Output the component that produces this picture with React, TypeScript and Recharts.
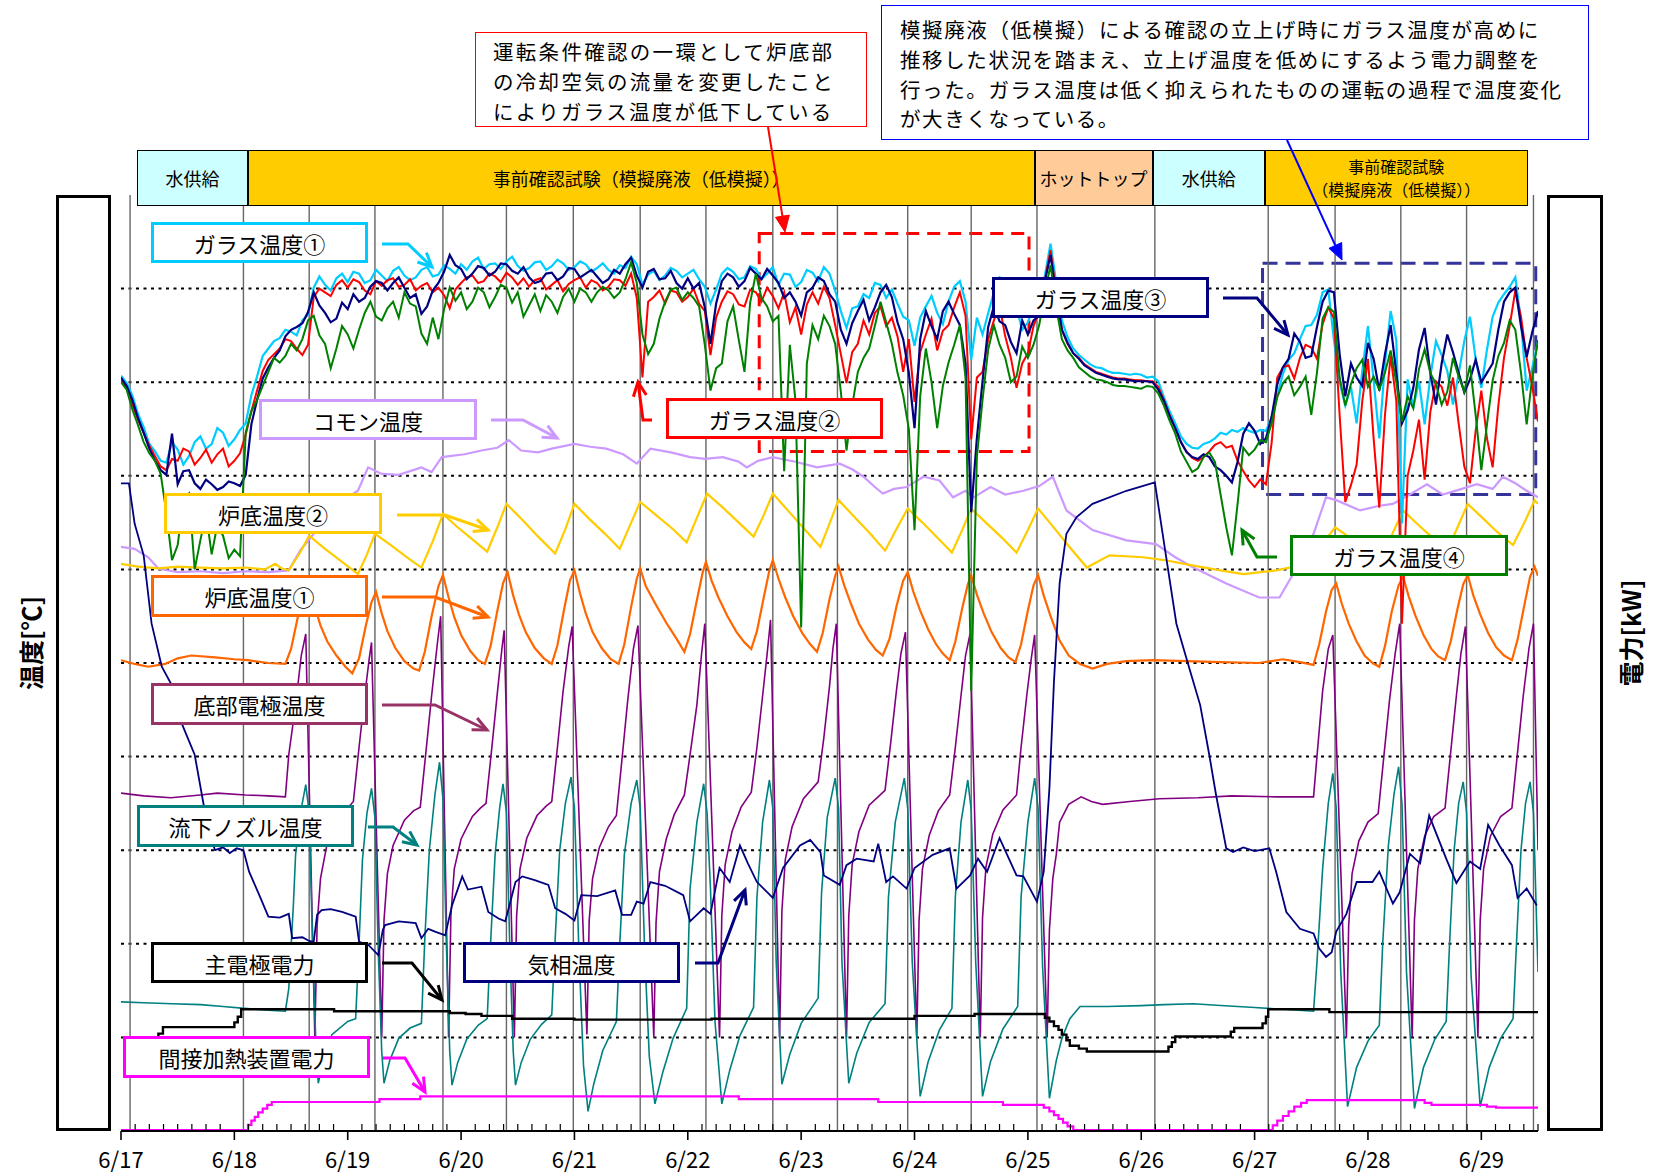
import React from 'react';
import { LineChart, Line, XAxis, YAxis, ReferenceLine, ReferenceArea } from 'recharts';

// ---- layout ----
const W = 1653;
const H = 1176;
const PLOT_L = 121;
const PLOT_R = 1538;
const PLOT_T = 195;
const X_MIN = 17;
const X_MAX = 29.5;
const FONT = "'Noto Sans CJK JP', 'Noto Sans', sans-serif";

// ---- glass temperatures ----
// main samples every 0.1 day from 6/17 00:00, plus in-between samples at +0.05 day
const glassStart = 17;
const glassStep = 0.1;

const glass1 = [
  80.7, 78.6, 75.2, 72.6, 71.4, 72.8, 72.1, 74.2, 73.4, 74.6,
  73.9, 75.6, 80.6, 83.6, 84.7, 85.4, 86.6, 90.1, 90.4, 91.1,
  90.7, 91.6, 90.9, 91.4, 91.9, 91.4, 91.2, 92.3, 91.5, 92.1,
  92.6, 92.9, 92.1, 92.7, 92.9, 92.4, 92.2, 92.9, 92.4, 92.7,
  92.3, 92.6, 92.2, 92.0, 92.5, 93.4, 90.4, 91.9, 91.4, 91.9,
  91.6, 91.0, 88.4, 91.6, 91.8, 91.2, 92.1, 91.6, 90.4, 91.5,
  90.7, 91.7, 92.3, 89.8, 85.8, 88.1, 89.0, 90.4, 89.9, 87.0,
  83.9, 88.1, 87.4, 88.6, 90.8, 82.4, 85.1, 89.6, 90.9, 88.0,
  86.4, 89.1, 94.8, 86.6, 83.6, 82.4, 81.6, 81.2, 81.0, 80.8,
  80.8, 80.6, 78.4, 75.6, 73.4, 72.9, 73.6, 74.6, 74.9, 75.1,
  74.6, 74.8, 78.6, 82.4, 84.6, 86.1, 89.6, 84.5, 77.5, 75.6,
  86.0, 74.0, 87.6, 64.9, 77.3, 75.5, 84.4, 81.2, 80.9, 87.0,
  79.4, 87.0, 89.4, 91.2, 79.1, 84.4,
];
const glass1Mid = [
  79.9, 76.6, 73.4, 71.6, 73.6, 71.2, 73.6, 72.9, 75.1, 73.2,
  74.9, 78.6, 82.8, 84.4, 85.6, 85.0, 87.2, 91.3, 89.8, 91.6,
  91.8, 90.6, 92.0, 90.8, 92.3, 90.9, 92.0, 91.3, 92.5, 91.6,
  92.0, 93.3, 92.6, 92.1, 93.4, 91.9, 92.8, 92.0, 93.1, 92.0,
  92.9, 91.8, 92.7, 91.6, 92.2, 92.6, 91.5, 90.9, 92.2, 91.2,
  92.0, 90.2, 89.9, 92.2, 91.0, 92.4, 91.0, 92.3, 91.6, 90.2,
  92.0, 90.8, 91.6, 87.6, 87.9, 89.4, 90.6, 89.0, 88.4, 86.6,
  86.9, 89.2, 86.2, 90.2, 88.6, 86.9, 87.4, 91.2, 89.2, 85.6,
  88.2, 91.4, 90.6, 84.8, 82.9, 81.9, 81.5, 81.0, 80.9, 80.9,
  80.5, 80.1, 76.9, 74.2, 73.0, 73.4, 74.0, 74.4, 74.7, 74.8,
  74.9, 76.2, 80.9, 83.1, 86.0, 87.2, 89.9, 80.0, 79.5, 81.2,
  80.2, 82.0, 84.5, 80.3, 80.1, 80.6, 82.9, 77.6, 84.4, 82.5,
  83.5, 88.5, 90.2, 86.5, 81.6,
];

const glass2 = [
  80.2, 77.6, 74.6, 72.1, 70.6, 71.6, 72.6, 71.9, 71.4, 72.9,
  71.6, 74.4, 79.1, 82.4, 83.6, 84.4, 82.9, 89.1, 89.6, 90.4,
  90.1, 90.7, 89.4, 90.3, 91.1, 90.4, 89.8, 90.6, 90.1, 87.9,
  90.6, 91.4, 90.8, 91.3, 91.7, 90.4, 90.2, 91.1, 90.4, 89.7,
  90.9, 90.1, 90.6, 90.2, 90.9, 91.6, 80.5, 89.1, 88.4, 89.6,
  89.1, 88.4, 82.9, 88.6, 89.4, 88.1, 89.6, 90.1, 87.9, 86.4,
  85.1, 89.6, 90.2, 86.1, 79.9, 84.1, 85.1, 88.1, 86.9, 81.1,
  77.9, 85.1, 83.4, 86.1, 89.6, 73.9, 81.1, 86.6, 84.9, 79.4,
  83.1, 87.6, 94.1, 85.6, 83.1, 81.9, 81.1, 80.7, 80.4, 80.3,
  80.2, 80.1, 78.1, 75.1, 72.6, 71.6, 72.6, 73.6, 73.2, 70.5,
  68.8, 69.1, 80.5, 81.8, 82.6, 83.7, 86.2, 86.8, 67.2, 71.2,
  82.5, 66.6, 82.8, 54.2, 72.7, 69.6, 80.1, 77.5, 75.6, 69.2,
  79.1, 70.9, 82.6, 89.8, 82.6, 75.8,
];
const glass2Mid = [
  79.4, 76.0, 73.2, 71.0, 71.8, 72.9, 71.2, 72.8, 72.3, 71.0,
  72.4, 76.9, 81.2, 83.0, 84.6, 83.6, 84.0, 90.0, 89.2, 90.9,
  91.0, 89.8, 90.8, 90.9, 90.2, 91.0, 90.3, 89.6, 89.3, 89.9,
  91.2, 90.6, 91.6, 90.7, 91.2, 91.1, 90.9, 89.9, 90.9, 90.5,
  91.2, 90.9, 89.8, 91.0, 90.3, 89.0, 88.6, 89.8, 89.8, 88.6,
  90.0, 87.6, 86.9, 89.7, 88.3, 89.9, 88.6, 89.2, 89.6, 88.0,
  88.3, 88.4, 89.0, 83.0, 83.2, 86.6, 87.4, 86.0, 84.9, 84.6,
  83.2, 86.8, 85.5, 88.0, 87.1, 80.5, 84.6, 88.2, 82.6, 82.0,
  86.0, 90.9, 89.6, 84.1, 82.6, 81.5, 80.9, 80.5, 80.4, 80.2,
  80.1, 79.5, 76.5, 73.6, 71.9, 72.0, 73.3, 73.0, 71.6, 69.5,
  69.6, 73.5, 81.6, 80.4, 84.0, 82.5, 88.0, 76.5, 69.0, 78.0,
  74.0, 76.5, 78.0, 70.0, 76.0, 76.8, 79.5, 80.5, 71.0, 74.8,
  74.0, 77.5, 86.0, 87.0, 79.5,
];

const glass3 = [
  80.5, 78.1, 74.6, 71.6, 70.1, 69.1, 70.6, 68.6, 69.1, 68.8,
  69.2, 70.1, 78.1, 81.6, 83.4, 85.6, 86.3, 89.6, 87.4, 86.8,
  87.8, 88.6, 90.2, 90.6, 90.6, 90.1, 89.4, 88.1, 90.6, 93.6,
  92.1, 91.6, 92.2, 91.8, 92.6, 91.6, 91.2, 90.8, 91.7, 91.3,
  92.1, 91.6, 91.3, 91.0, 91.6, 93.3, 90.1, 92.1, 91.1, 90.6,
  91.1, 90.6, 84.1, 90.8, 91.2, 90.8, 91.6, 92.1, 90.6, 89.6,
  87.1, 90.1, 90.8, 88.6, 84.1, 87.6, 86.6, 89.6, 89.1, 84.6,
  75.1, 87.6, 84.6, 88.6, 86.1, 66.1, 80.1, 88.1, 86.1, 83.1,
  85.1, 87.1, 93.6, 85.6, 83.1, 81.8, 81.0, 80.6, 80.3, 80.2,
  80.1, 80.0, 78.0, 75.1, 72.5, 71.8, 72.0, 70.6, 69.3, 74.5,
  74.8, 74.0, 79.8, 82.5, 84.3, 82.8, 88.6, 89.6, 78.5, 80.5,
  84.2, 79.1, 86.1, 75.6, 79.4, 85.8, 77.6, 85.1, 81.0, 80.3,
  80.0, 82.0, 88.6, 90.1, 82.7, 87.6,
];
const glass3Mid = [
  79.6, 76.2, 72.9, 70.6, 74.5, 70.5, 69.2, 69.6, 68.5, 69.4,
  68.9, 75.5, 80.4, 82.6, 84.9, 85.9, 87.5, 88.2, 86.4, 88.5,
  89.4, 89.0, 90.8, 89.8, 91.2, 89.0, 87.3, 89.8, 91.8, 92.5,
  91.0, 92.4, 91.4, 92.7, 91.9, 92.3, 90.6, 91.6, 90.9, 92.2,
  91.2, 92.0, 90.6, 92.0, 92.6, 91.4, 91.8, 91.0, 91.9, 90.0,
  90.0, 88.0, 88.4, 91.6, 90.2, 92.2, 91.0, 91.4, 89.0, 88.6,
  89.6, 91.2, 89.4, 85.6, 86.3, 88.8, 88.0, 90.4, 86.4, 81.0,
  84.6, 86.0, 87.6, 87.3, 82.0, 74.0, 85.9, 86.5, 84.3, 86.6,
  86.6, 90.8, 89.2, 84.2, 82.5, 81.4, 80.8, 80.4, 80.3, 80.1,
  80.1, 79.2, 76.4, 73.6, 72.0, 72.3, 71.0, 70.0, 71.5, 75.6,
  73.4, 76.3, 81.6, 85.2, 82.6, 85.9, 89.8, 83.0, 82.0, 79.6,
  82.5, 83.0, 81.0, 77.0, 83.5, 81.0, 82.0, 83.2, 78.9, 82.4,
  81.0, 85.6, 89.6, 86.0, 85.4,
];

const glass4 = [
  80.0, 77.1, 73.6, 71.6, 66.1, 62.6, 68.1, 63.1, 61.6, 63.6,
  62.1, 74.6, 78.1, 81.1, 82.1, 84.1, 84.6, 87.1, 84.1, 83.6,
  85.1, 85.6, 88.6, 86.6, 88.6, 89.6, 88.1, 84.1, 84.6, 90.1,
  89.6, 88.6, 89.6, 89.1, 90.1, 89.6, 88.2, 87.6, 88.6, 89.1,
  88.6, 89.6, 89.6, 89.8, 89.6, 92.8, 85.1, 84.1, 88.6, 90.1,
  89.6, 88.1, 79.1, 82.0, 88.1, 81.1, 91.6, 88.1, 87.1, 84.0,
  53.8, 86.1, 87.1, 84.1, 72.7, 81.1, 83.6, 88.6, 84.1, 78.6,
  64.2, 83.6, 75.1, 82.1, 86.1, 47.0, 78.1, 86.1, 82.6, 80.6,
  82.6, 86.1, 92.5, 84.6, 82.6, 81.1, 80.3, 80.0, 79.6, 79.5,
  79.3, 79.5, 77.5, 74.5, 71.5, 70.8, 72.5, 68.0, 61.5, 73.0,
  72.8, 73.6, 78.4, 80.6, 79.5, 76.5, 86.8, 87.5, 77.5, 81.5,
  79.5, 79.2, 83.4, 75.8, 77.2, 83.5, 79.8, 79.0, 80.6, 81.8,
  70.6, 80.2, 84.2, 85.6, 75.5, 84.5,
];
const glass4Mid = [
  79.2, 75.4, 72.4, 70.2, 61.0, 67.4, 60.0, 66.0, 64.8, 61.2,
  61.4, 76.9, 79.6, 82.6, 82.8, 83.4, 86.6, 85.0, 81.5, 86.0,
  83.6, 87.4, 87.0, 87.9, 86.9, 88.4, 85.2, 86.9, 87.8, 88.7,
  87.8, 90.1, 88.0, 90.4, 88.5, 87.0, 89.4, 89.3, 87.4, 90.0,
  90.0, 88.6, 90.2, 89.0, 91.0, 90.6, 83.0, 86.8, 89.9, 88.8,
  89.0, 84.0, 81.5, 86.5, 84.5, 88.5, 89.0, 86.5, 70.5, 78.0,
  82.0, 84.6, 86.0, 79.0, 77.5, 82.6, 86.0, 86.4, 81.0, 75.0,
  78.5, 80.0, 79.6, 84.0, 80.5, 72.0, 83.5, 84.0, 80.0, 83.8,
  84.0, 89.6, 88.0, 83.4, 81.6, 80.6, 80.2, 79.7, 79.6, 79.4,
  79.6, 78.8, 75.9, 72.6, 70.4, 72.0, 71.5, 64.5, 67.0, 72.2,
  73.8, 75.6, 79.9, 78.6, 80.6, 81.0, 88.0, 80.5, 79.8, 82.4,
  80.6, 81.0, 80.0, 78.5, 81.4, 81.0, 77.6, 82.6, 79.0, 76.5,
  75.5, 82.8, 86.6, 81.0, 80.6,
];

// ---- other temperatures: [day, value] ----
const commonTemp: [number, number][] = [
  [17.0, 62.4], [17.12, 62.2], [17.24, 61.3], [17.33, 60.1], [17.5, 59.7], [17.7, 59.8], [17.9, 59.6],
  [18.1, 59.8], [18.3, 59.7], [18.48, 59.9], [18.58, 62.0], [18.7, 63.8], [18.85, 65.5], [19.0, 67.7],
  [19.09, 68.4], [19.18, 70.9], [19.3, 70.2], [19.45, 70.1], [19.65, 70.9], [19.74, 70.4], [19.83, 72.0],
  [20.03, 72.3], [20.18, 72.7], [20.32, 73.0], [20.42, 73.8], [20.53, 72.7], [20.68, 72.5], [20.8, 72.9],
  [21.0, 73.4], [21.14, 73.1], [21.28, 72.9], [21.43, 72.3], [21.55, 71.3], [21.67, 72.9], [21.85, 72.5],
  [22.02, 72.0], [22.15, 71.8], [22.31, 72.0], [22.45, 71.5], [22.52, 70.9], [22.62, 71.6], [22.75, 72.0],
  [22.95, 71.5], [23.14, 70.9], [23.34, 71.3], [23.45, 70.7], [23.55, 69.9], [23.65, 68.8], [23.72, 68.1],
  [23.82, 68.6], [23.93, 68.8], [24.08, 69.9], [24.22, 69.5], [24.34, 67.7], [24.45, 68.4], [24.52, 67.7],
  [24.67, 68.8], [24.8, 68.0], [24.96, 68.4], [25.1, 68.9], [25.22, 69.9], [25.34, 66.3], [25.57, 64.2],
  [25.87, 63.1], [26.13, 62.7], [26.3, 61.3], [26.46, 60.2], [26.75, 58.5], [27.04, 57.0], [27.22, 57.0],
  [27.34, 59.5], [27.52, 63.8], [27.63, 67.7], [27.72, 67.4], [27.93, 66.3], [28.1, 66.8], [28.22, 67.0],
  [28.37, 68.0], [28.52, 69.1], [28.66, 68.0], [28.8, 68.5], [28.96, 69.1], [29.1, 68.6], [29.19, 69.9],
  [29.3, 69.2], [29.4, 68.4], [29.5, 67.7],
];

const bottomTemp2: [number, number][] = [
  [17.0, 60.6], [17.15, 60.3], [17.33, 60.1], [17.5, 60.3], [17.7, 60.2], [17.9, 60.1], [18.1, 60.2],
  [18.27, 60.0], [18.36, 60.6], [18.42, 60.1], [18.48, 59.9], [18.58, 61.8], [18.66, 63.6],
  [18.8, 62.2], [18.95, 60.8], [19.09, 59.5], [19.17, 61.6], [19.24, 63.8],
  [19.38, 62.6], [19.52, 61.3], [19.65, 60.2], [19.75, 63.0], [19.84, 65.9],
  [19.97, 64.5], [20.1, 63.2], [20.23, 61.9], [20.32, 64.5], [20.4, 67.0],
  [20.54, 65.3], [20.68, 63.5], [20.83, 61.7], [20.92, 64.3], [21.0, 67.0],
  [21.13, 65.4], [21.27, 63.8], [21.4, 62.2], [21.49, 64.7], [21.58, 67.2],
  [21.72, 65.8], [21.86, 64.4], [21.99, 62.9], [22.08, 65.5], [22.17, 68.1],
  [22.31, 66.6], [22.45, 65.0], [22.58, 63.5], [22.67, 65.8], [22.75, 68.1],
  [22.89, 66.2], [23.03, 64.3], [23.17, 62.4], [23.25, 64.9], [23.33, 67.4],
  [23.47, 65.6], [23.61, 63.8], [23.74, 62.0], [23.84, 64.3], [23.94, 66.5],
  [24.07, 65.0], [24.2, 63.4], [24.33, 61.8], [24.42, 64.2], [24.5, 66.5],
  [24.63, 65.0], [24.77, 63.4], [24.9, 61.8], [25.0, 64.2], [25.09, 66.5],
  [25.22, 64.6], [25.36, 62.5], [25.52, 60.2], [25.72, 61.5], [26.02, 61.3], [26.2, 61.0],
  [26.46, 60.4], [26.7, 59.9], [26.9, 59.5], [27.19, 59.9], [27.35, 60.3], [27.54, 61.8], [27.71, 64.5],
  [27.84, 63.4], [27.97, 62.0], [28.1, 60.6], [28.2, 63.4], [28.31, 66.3],
  [28.44, 64.8], [28.57, 63.4], [28.7, 62.0], [28.79, 64.5], [28.88, 67.0],
  [29.01, 65.5], [29.14, 64.0], [29.28, 62.6], [29.38, 65.0], [29.47, 67.4], [29.5, 67.0],
];

const bottomTemp1: [number, number][] = [
  [17.0, 50.3], [17.12, 49.9], [17.24, 49.6], [17.39, 49.9], [17.5, 50.5], [17.62, 50.8], [17.83, 50.6],
  [18.0, 50.4], [18.12, 50.3], [18.3, 50.0], [18.45, 49.9],
  [18.5, 51.5], [18.56, 54.9], [18.62, 57.2], [18.66, 58.0],
  [18.71, 56.0], [18.76, 54.0], [18.82, 52.3], [18.9, 50.8], [18.98, 49.6], [19.04, 48.9],
  [19.1, 50.5], [19.16, 54.0], [19.21, 56.5], [19.25, 57.6],
  [19.3, 55.3], [19.35, 53.4], [19.42, 51.6], [19.5, 50.2], [19.58, 49.4], [19.63, 49.2],
  [19.68, 51.2], [19.74, 55.0], [19.8, 58.2], [19.84, 59.4],
  [19.89, 57.0], [19.94, 54.9], [20.0, 53.0], [20.08, 51.3], [20.15, 50.3], [20.21, 49.9],
  [20.26, 51.8], [20.32, 55.6], [20.37, 58.5], [20.41, 59.7],
  [20.46, 57.2], [20.51, 55.2], [20.57, 53.3], [20.65, 51.6], [20.73, 50.5], [20.8, 49.9],
  [20.85, 51.9], [20.91, 55.8], [20.96, 58.8], [21.0, 59.9],
  [21.05, 57.4], [21.1, 55.3], [21.16, 53.3], [21.24, 51.6], [21.32, 50.4], [21.39, 49.9],
  [21.44, 52.0], [21.5, 56.0], [21.55, 59.0], [21.58, 60.1],
  [21.63, 58.2], [21.72, 56.2], [21.81, 54.3], [21.9, 52.6], [21.97, 51.2],
  [22.02, 53.1], [22.08, 56.7], [22.13, 59.6], [22.16, 60.8],
  [22.21, 58.8], [22.27, 57.0], [22.35, 55.0], [22.43, 53.3], [22.5, 52.2], [22.56, 51.5],
  [22.61, 53.4], [22.67, 57.0], [22.72, 59.9], [22.75, 61.0],
  [22.8, 59.0], [22.86, 57.0], [22.93, 55.0], [23.01, 53.2], [23.08, 52.0], [23.14, 51.2],
  [23.19, 53.2], [23.25, 56.8], [23.3, 59.3], [23.33, 60.3],
  [23.38, 58.3], [23.44, 56.3], [23.51, 54.2], [23.59, 52.5], [23.66, 51.4], [23.72, 50.8],
  [23.78, 52.6], [23.84, 56.0], [23.9, 58.8], [23.94, 59.7],
  [23.99, 57.6], [24.05, 55.6], [24.12, 53.6], [24.19, 52.0], [24.25, 51.0], [24.31, 50.3],
  [24.36, 52.3], [24.42, 55.8], [24.47, 58.4], [24.5, 59.4],
  [24.55, 57.3], [24.61, 55.3], [24.68, 53.3], [24.76, 51.6], [24.83, 50.6], [24.89, 50.1],
  [24.94, 52.0], [25.0, 55.6], [25.05, 58.3], [25.09, 59.4],
  [25.14, 57.2], [25.2, 55.0], [25.28, 52.4], [25.36, 50.8], [25.46, 49.9], [25.57, 49.4],
  [25.7, 49.9], [25.87, 50.2], [26.1, 50.3], [26.4, 50.2], [26.7, 50.1], [27.04, 50.0], [27.25, 50.4],
  [27.4, 50.1], [27.52, 49.8],
  [27.57, 52.0], [27.63, 55.5], [27.68, 57.8], [27.72, 58.5],
  [27.77, 56.3], [27.83, 54.2], [27.9, 52.3], [27.97, 50.8], [28.04, 50.0], [28.1, 49.6],
  [28.15, 51.8], [28.21, 55.5], [28.27, 58.3], [28.31, 59.2],
  [28.36, 57.1], [28.42, 55.0], [28.49, 53.0], [28.56, 51.5], [28.62, 50.7], [28.68, 50.3],
  [28.73, 52.3], [28.79, 55.8], [28.84, 58.4], [28.88, 59.4],
  [28.93, 57.2], [28.99, 55.2], [29.06, 53.2], [29.13, 51.7], [29.2, 50.8], [29.27, 50.3],
  [29.32, 52.5], [29.38, 56.2], [29.43, 59.2], [29.47, 60.3], [29.5, 59.3],
];

const electrodeTemp: [number, number][] = [
  [17.0, 36.1], [17.2, 35.8], [17.44, 35.6], [17.7, 35.9], [17.85, 36.1], [18.1, 35.9], [18.3, 35.8], [18.45, 35.7],
  [18.48, 40.2], [18.54, 45.5], [18.59, 50.8], [18.63, 53.1],
  [18.71, 10.0], [18.73, 22.0], [18.76, 27.0], [18.82, 30.8], [18.9, 33.0], [19.0, 34.5], [19.05, 35.2],
  [19.1, 41.0], [19.15, 46.5], [19.19, 50.5], [19.21, 52.2],
  [19.3, 10.0], [19.32, 22.5], [19.35, 27.5], [19.4, 30.5], [19.5, 33.2], [19.58, 34.2], [19.64, 34.6],
  [19.69, 40.5], [19.74, 46.5], [19.79, 52.0], [19.82, 55.0],
  [19.89, 10.0], [19.91, 23.0], [19.94, 28.0], [20.0, 31.2], [20.1, 33.6], [20.17, 34.5], [20.22, 35.0],
  [20.27, 40.8], [20.32, 46.8], [20.36, 51.5], [20.38, 53.5],
  [20.47, 10.0], [20.49, 23.0], [20.52, 28.0], [20.58, 31.3], [20.67, 33.7], [20.75, 34.7], [20.8, 35.2],
  [20.85, 41.0], [20.9, 47.0], [20.95, 51.8], [20.98, 53.9],
  [21.11, 10.3], [21.13, 22.5], [21.16, 27.0], [21.22, 30.3], [21.3, 32.5], [21.37, 33.7],
  [21.42, 39.8], [21.47, 46.0], [21.52, 51.5], [21.56, 54.0],
  [21.7, 10.0], [21.72, 22.3], [21.75, 27.7], [21.81, 31.2], [21.88, 33.8], [21.97, 35.9],
  [22.02, 40.2], [22.08, 45.5], [22.12, 50.8], [22.15, 54.2],
  [22.28, 10.0], [22.3, 23.0], [22.33, 28.5], [22.39, 32.0], [22.47, 34.6], [22.56, 36.2],
  [22.61, 41.0], [22.66, 46.5], [22.7, 51.0], [22.73, 54.6],
  [22.81, 10.0], [22.83, 23.5], [22.86, 29.0], [22.92, 32.5], [23.02, 35.5], [23.15, 37.3],
  [23.2, 42.0], [23.25, 47.5], [23.28, 51.5], [23.31, 54.2],
  [23.4, 10.0], [23.42, 23.0], [23.45, 28.5], [23.51, 32.0], [23.6, 34.8], [23.74, 36.4],
  [23.79, 41.5], [23.84, 47.0], [23.88, 51.0], [23.92, 53.3],
  [24.02, 10.0], [24.04, 22.5], [24.07, 28.0], [24.13, 31.6], [24.21, 34.2], [24.31, 35.9],
  [24.36, 41.0], [24.41, 46.5], [24.45, 50.8], [24.49, 53.1],
  [24.58, 10.0], [24.6, 22.8], [24.63, 28.2], [24.69, 31.7], [24.78, 34.3], [24.9, 35.9],
  [24.94, 41.0], [24.99, 46.5], [25.03, 50.5], [25.06, 53.0],
  [25.17, 10.0], [25.19, 21.5], [25.22, 27.0], [25.25, 29.5], [25.28, 33.0], [25.36, 34.9], [25.47, 35.7],
  [25.56, 35.2], [25.66, 34.9], [25.9, 35.2], [26.16, 35.5], [26.5, 35.6], [26.8, 35.8], [27.2, 35.7], [27.52, 35.7],
  [27.55, 40.0], [27.6, 47.0], [27.65, 51.5], [27.69, 53.0],
  [27.81, 10.0], [27.83, 22.0], [27.86, 27.5], [27.92, 31.0], [28.0, 33.0], [28.09, 33.9],
  [28.14, 40.0], [28.19, 46.0], [28.24, 51.0], [28.28, 54.2],
  [28.39, 10.0], [28.41, 22.5], [28.44, 28.0], [28.5, 31.5], [28.58, 33.6], [28.68, 34.5],
  [28.73, 40.5], [28.78, 46.5], [28.82, 51.0], [28.86, 53.9],
  [28.97, 10.0], [28.99, 22.5], [29.02, 28.0], [29.08, 31.5], [29.17, 33.6], [29.27, 34.5],
  [29.32, 40.5], [29.37, 46.5], [29.42, 51.5], [29.46, 54.2], [29.5, 30.0],
];

const nozzleTemp: [number, number][] = [
  [17.0, 13.8], [17.2, 13.7], [17.45, 13.6], [17.7, 13.5], [17.9, 13.3], [18.09, 13.1], [18.3, 12.9], [18.45, 12.8],
  [18.48, 15.2], [18.52, 24.0], [18.54, 29.5], [18.58, 33.8], [18.63, 37.0], [18.66, 34.0],
  [18.69, 20.0], [18.72, 9.0], [18.74, 5.1], [18.78, 7.2], [18.86, 10.3], [19.0, 11.7], [19.07, 12.0],
  [19.1, 20.0], [19.13, 29.0], [19.17, 34.0], [19.21, 36.6], [19.24, 33.5],
  [19.27, 19.0], [19.3, 8.5], [19.32, 5.1], [19.37, 7.5], [19.45, 9.9], [19.55, 11.0], [19.65, 11.5],
  [19.68, 20.5], [19.72, 30.0], [19.77, 36.0], [19.81, 39.4], [19.84, 35.5],
  [19.87, 20.0], [19.9, 8.5], [19.92, 4.9], [19.97, 7.3], [20.05, 9.8], [20.15, 11.3], [20.23, 12.0],
  [20.26, 20.0], [20.3, 29.5], [20.34, 34.5], [20.37, 37.1], [20.4, 34.0],
  [20.43, 19.5], [20.46, 8.5], [20.48, 4.9], [20.53, 7.3], [20.61, 9.8], [20.71, 11.4], [20.8, 12.4],
  [20.83, 20.5], [20.87, 30.0], [20.92, 35.0], [20.97, 37.8], [21.0, 34.5],
  [21.04, 19.0], [21.08, 7.0], [21.12, 2.1], [21.17, 5.0], [21.25, 8.6], [21.37, 11.7],
  [21.4, 20.0], [21.44, 29.5], [21.5, 35.0], [21.55, 37.5], [21.58, 34.5],
  [21.62, 19.0], [21.66, 8.0], [21.71, 2.9], [21.78, 6.3], [21.87, 9.9], [21.99, 13.1],
  [22.02, 25.9], [22.08, 33.0], [22.14, 37.1], [22.17, 34.0],
  [22.2, 25.9], [22.24, 11.7], [22.3, 2.9], [22.37, 6.5], [22.46, 10.2], [22.58, 13.2],
  [22.61, 25.0], [22.66, 33.0], [22.72, 37.5], [22.75, 34.5],
  [22.78, 18.0], [22.83, 5.0], [22.9, 8.2], [23.0, 11.5], [23.15, 14.2],
  [23.18, 25.5], [23.23, 33.5], [23.3, 37.7], [23.33, 34.5],
  [23.36, 18.0], [23.42, 5.1], [23.49, 8.3], [23.6, 11.6], [23.74, 13.6],
  [23.77, 25.0], [23.83, 33.0], [23.91, 37.7], [23.94, 34.5],
  [23.98, 18.0], [24.05, 3.7], [24.12, 7.4], [24.22, 10.8], [24.33, 13.1],
  [24.36, 25.0], [24.41, 33.0], [24.47, 37.5], [24.5, 34.3],
  [24.54, 18.0], [24.6, 3.7], [24.67, 7.4], [24.78, 10.9], [24.91, 13.3],
  [24.94, 25.0], [25.0, 33.0], [25.06, 37.7], [25.09, 34.5],
  [25.13, 17.5], [25.19, 3.5], [25.25, 7.5], [25.3, 9.9], [25.37, 12.0], [25.46, 13.3], [25.7, 13.3],
  [26.0, 13.4], [26.2, 13.5], [26.46, 13.6], [26.7, 13.4], [27.0, 13.2], [27.25, 13.0], [27.52, 12.8],
  [27.55, 18.0], [27.6, 28.0], [27.65, 35.0], [27.69, 38.2], [27.72, 34.5],
  [27.76, 17.0], [27.82, 2.6], [27.9, 6.8], [28.0, 9.6], [28.1, 11.3],
  [28.13, 20.0], [28.18, 30.5], [28.23, 36.0], [28.27, 38.9], [28.3, 35.0],
  [28.34, 17.0], [28.41, 2.4], [28.49, 6.8], [28.59, 9.8], [28.69, 11.7],
  [28.72, 20.0], [28.76, 30.0], [28.8, 35.0], [28.84, 37.3], [28.87, 34.0],
  [28.91, 16.5], [28.99, 2.6], [29.07, 6.8], [29.17, 9.9], [29.28, 12.0],
  [29.31, 20.0], [29.35, 30.0], [29.39, 35.0], [29.43, 37.3], [29.46, 34.0], [29.5, 17.0],
];

const gasTemp: [number, number][] = [
  [17.0, 69.2], [17.07, 69.2], [17.12, 64.9], [17.2, 61.5], [17.27, 54.2], [17.36, 49.6], [17.45, 47.6],
  [17.53, 43.7], [17.65, 40.2], [17.73, 34.8], [17.8, 31.0], [17.83, 30.0], [17.9, 30.3], [17.96, 29.7],
  [18.02, 30.2], [18.08, 30.0], [18.13, 27.7], [18.22, 25.2], [18.3, 22.9], [18.4, 22.8], [18.48, 23.2],
  [18.51, 20.6], [18.6, 20.7], [18.66, 20.3], [18.7, 20.2], [18.73, 23.1], [18.77, 23.6], [18.85, 23.7],
  [18.95, 23.4], [19.07, 22.9], [19.1, 20.2], [19.18, 19.9], [19.27, 18.8], [19.31, 21.5], [19.33, 22.0],
  [19.45, 22.4], [19.6, 22.2], [19.65, 20.6], [19.71, 21.6], [19.77, 21.3], [19.86, 20.9], [19.92, 24.1],
  [20.01, 27.2], [20.06, 25.8], [20.18, 26.1], [20.24, 23.4], [20.33, 22.7], [20.39, 22.4], [20.48, 26.6],
  [20.54, 27.2], [20.65, 26.8], [20.77, 26.3], [20.83, 23.8], [20.92, 23.2], [21.0, 22.5], [21.06, 25.2],
  [21.2, 25.1], [21.36, 25.7], [21.42, 23.1], [21.5, 23.1], [21.55, 24.5], [21.61, 24.3], [21.67, 26.6],
  [21.8, 26.2], [21.96, 25.2], [22.02, 22.4], [22.14, 23.8], [22.2, 23.2], [22.28, 28.1], [22.37, 26.6],
  [22.46, 30.5], [22.53, 28.6], [22.61, 26.6], [22.75, 24.9], [22.84, 28.1], [22.99, 30.5], [23.08, 31.1],
  [23.17, 29.8], [23.2, 27.3], [23.34, 26.3], [23.4, 28.4], [23.49, 29.1], [23.64, 28.8], [23.68, 30.7],
  [23.75, 26.6], [23.81, 27.2], [23.93, 25.9], [24.0, 28.1], [24.16, 29.5], [24.31, 30.2], [24.37, 25.9],
  [24.49, 27.3], [24.56, 29.1], [24.64, 27.7], [24.75, 31.3], [24.9, 27.3], [24.96, 27.2], [25.08, 24.5],
  [25.14, 27.7], [25.19, 36.6], [25.23, 48.0], [25.28, 58.5], [25.34, 63.8], [25.43, 65.6], [25.57, 67.0],
  [25.87, 68.4], [26.12, 69.3], [26.22, 61.3], [26.31, 54.2], [26.43, 49.2], [26.52, 45.5], [26.6, 40.2],
  [26.66, 35.9], [26.75, 30.2], [26.81, 29.8], [26.9, 30.3], [27.0, 29.9], [27.13, 30.2], [27.19, 27.7],
  [27.28, 23.4], [27.4, 21.6], [27.52, 21.1], [27.57, 19.5], [27.63, 18.6], [27.68, 19.1], [27.72, 21.3],
  [27.81, 23.2], [27.9, 26.6], [28.04, 26.6], [28.1, 27.7], [28.22, 24.3], [28.28, 25.5], [28.37, 29.6],
  [28.46, 28.6], [28.54, 33.7], [28.69, 29.1], [28.78, 26.5], [28.9, 28.8], [28.99, 28.0], [29.06, 32.7],
  [29.16, 30.5], [29.27, 28.4], [29.32, 24.9], [29.4, 25.9], [29.49, 24.1],
];

// ---- electric power (right axis), step series ----
const mainPower: [number, number][] = [
  [17.3, 9.5], [17.33, 10.4], [17.37, 11.1], [18.0, 11.6], [18.03, 12.2], [18.06, 13.0], [18.88, 12.8],
  [19.9, 12.6], [20.04, 12.5], [20.18, 12.3], [20.45, 12.0], [21.0, 11.9], [22.21, 12.0], [24.0, 12.3],
  [24.53, 12.5], [25.15, 12.1], [25.19, 11.7], [25.23, 11.2], [25.27, 10.8], [25.3, 10.3], [25.34, 9.7],
  [25.37, 9.1], [25.45, 8.8], [25.52, 8.5], [26.24, 9.0], [26.27, 9.5], [26.3, 10.1], [26.79, 10.6],
  [26.82, 11.0], [27.07, 11.5], [27.1, 12.2], [27.12, 13.0], [27.66, 12.7], [29.5, 12.7],
];

const heaterPower: [number, number][] = [
  [17.0, 0.1], [18.12, 0.65], [18.15, 1.1], [18.18, 1.5], [18.21, 2.0], [18.25, 2.4], [18.29, 2.8],
  [18.33, 3.1], [19.28, 3.4], [19.64, 3.7], [22.45, 3.4], [23.68, 3.1], [24.78, 2.8], [25.14, 2.5],
  [25.19, 2.1], [25.23, 1.7], [25.27, 1.3], [25.31, 0.9], [25.35, 0.5], [25.4, 0.1], [27.16, 0.6],
  [27.2, 1.1], [27.25, 1.6], [27.3, 2.1], [27.35, 2.6], [27.41, 3.0], [27.46, 3.3], [28.5, 3.0],
  [28.56, 2.8], [29.05, 2.6], [29.13, 2.5], [29.5, 2.5],
];

// ---- operation events (vertical lines) and schedule band ----
const eventDays = [
  17.08, 18.08, 18.66, 19.24, 19.84, 20.4, 20.99, 21.58, 22.16, 22.75, 23.32, 23.94, 24.5, 25.08,
  26.12, 27.12, 27.71, 28.29, 28.87, 29.46,
];

const phases = [
  { from: 17.14, to: 18.12, color: '#CCFFFF', lines: ['水供給'] },
  { from: 18.12, to: 25.06, color: '#FFCC00', lines: ['事前確認試験（模擬廃液（低模擬））'] },
  { from: 25.06, to: 26.1, color: '#FFCC99', lines: ['ホットトップ'] },
  { from: 26.1, to: 27.09, color: '#CCFFFF', lines: ['水供給'] },
  { from: 27.09, to: 29.41, color: '#FFCC00', lines: ['事前確認試験', '（模擬廃液（低模擬））'] },
];

const dayLabels = ['6/17', '6/18', '6/19', '6/20', '6/21', '6/22', '6/23', '6/24', '6/25', '6/26', '6/27', '6/28', '6/29'];

const toPts = (arr: [number, number][]) => arr.map(([d, v]) => ({ d, v }));
const glassPts = (main: number[], mid: number[]) => {
  const out: { d: number; v: number }[] = [];
  main.forEach((v, i) => {
    out.push({ d: +(glassStart + i * glassStep).toFixed(2), v });
    if (i < mid.length) out.push({ d: +(glassStart + i * glassStep + glassStep / 2).toFixed(2), v: mid[i] });
  });
  return out;
};

const leftTicks = Array.from({ length: 21 }, (_, i) => i * 5);
const rightTicks = Array.from({ length: 41 }, (_, i) => i * 2.5);
const gridValues = [10, 20, 30, 40, 50, 60, 70, 80, 90];
const xTicks = Array.from({ length: 101 }, (_, i) => X_MIN + i * 0.125);

const dayX = (d: number) => PLOT_L + ((d - X_MIN) / (X_MAX - X_MIN)) * (PLOT_R - PLOT_L);

const DayTick = (props: any) => {
  const { x, y, payload } = props;
  const v = payload.value as number;
  const idx = Math.round(v - X_MIN);
  const major = Math.abs(v - Math.round(v)) < 1e-6;
  return (
    <g>
      {major ? (
        <line x1={x} x2={x} y1={y} y2={y + 9} stroke="#000" strokeWidth={1.6} />
      ) : (
        <line x1={x} x2={x} y1={y - 7} y2={y} stroke="#000" strokeWidth={1.2} />
      )}
      {major && dayLabels[idx] && (
        <text x={x} y={y + 37} textAnchor="middle" fontSize={22} fontFamily={FONT} fill="#000">
          {dayLabels[idx]}
        </text>
      )}
    </g>
  );
};

// series name labels
const callouts = [
  { text: 'ガラス温度①', x: 151, y: 222, w: 217, h: 41, color: '#00CCFF' },
  { text: 'コモン温度', x: 259, y: 399, w: 218, h: 41, color: '#CC99FF' },
  { text: '炉底温度②', x: 164, y: 493, w: 218, h: 41, color: '#FFCC00' },
  { text: '炉底温度①', x: 151, y: 575, w: 217, h: 42, color: '#FF6600' },
  { text: '底部電極温度', x: 151, y: 683, w: 217, h: 42, color: '#993366' },
  { text: '流下ノズル温度', x: 137, y: 805, w: 217, h: 42, color: '#008080' },
  { text: '主電極電力', x: 151, y: 942, w: 217, h: 41, color: '#000000' },
  { text: '間接加熱装置電力', x: 123, y: 1036, w: 247, h: 42, color: '#FF00FF' },
  { text: '気相温度', x: 463, y: 942, w: 217, h: 41, color: '#000080' },
  { text: 'ガラス温度②', x: 666, y: 398, w: 217, h: 41, color: '#FF0000' },
  { text: 'ガラス温度③', x: 992, y: 277, w: 217, h: 41, color: '#000080' },
  { text: 'ガラス温度④', x: 1290, y: 535, w: 218, h: 41, color: '#008000' },
];

const arrows: { pts: number[][]; color: string; filled?: boolean; width?: number }[] = [
  { pts: [[382, 244], [408, 244], [432, 267]], color: '#00CCFF' },
  { pts: [[491, 420], [523, 420], [557, 438]], color: '#CC99FF' },
  { pts: [[397, 515], [445, 515], [488, 530]], color: '#FFCC00' },
  { pts: [[382, 597], [435, 597], [488, 617]], color: '#FF6600' },
  { pts: [[382, 705], [435, 705], [487, 730]], color: '#993366' },
  { pts: [[368, 827], [393, 827], [417, 845]], color: '#008080' },
  { pts: [[382, 963], [412, 963], [442, 1000]], color: '#000000' },
  { pts: [[383, 1058], [405, 1058], [425, 1092]], color: '#FF00FF' },
  { pts: [[695, 963], [718, 963], [745, 890]], color: '#000080' },
  { pts: [[652, 420], [643, 420], [638, 382]], color: '#FF0000' },
  { pts: [[1223, 298], [1257, 298], [1288, 335]], color: '#000080' },
  { pts: [[1277, 557], [1257, 557], [1242, 530]], color: '#008000' },
  { pts: [[768, 127], [785, 232]], color: '#FF0000', filled: true, width: 2 },
  { pts: [[1287, 140], [1342, 260]], color: '#0000FF', filled: true, width: 2 },
];

const Arrow = ({ pts, color, filled, width }: { pts: number[][]; color: string; filled?: boolean; width?: number }) => {
  const n = pts.length;
  const [x1, y1] = pts[n - 2];
  const [x2, y2] = pts[n - 1];
  const len = Math.hypot(x2 - x1, y2 - y1);
  const ux = (x2 - x1) / len;
  const uy = (y2 - y1) / len;
  const L = filled ? 16 : 14;
  const Wd = filled ? 7 : 6.5;
  const ax = x2 - ux * L - uy * Wd;
  const ay = y2 - uy * L + ux * Wd;
  const bx = x2 - ux * L + uy * Wd;
  const by = y2 - uy * L - ux * Wd;
  const lineEnd = filled ? pts.slice(0, n - 1).concat([[x2 - ux * L * 0.8, y2 - uy * L * 0.8]]) : pts;
  return (
    <g>
      <polyline
        points={lineEnd.map((p) => p.join(',')).join(' ')}
        fill="none"
        stroke={color}
        strokeWidth={width ?? 3}
        strokeLinejoin="miter"
      />
      {filled ? (
        <polygon points={`${ax},${ay} ${x2},${y2} ${bx},${by}`} fill={color} stroke={color} />
      ) : (
        <polyline points={`${ax},${ay} ${x2},${y2} ${bx},${by}`} fill="none" stroke={color} strokeWidth={3} />
      )}
    </g>
  );
};

const noteStyle = {
  position: 'absolute' as const,
  boxSizing: 'border-box' as const,
  background: '#fff',
  fontSize: 20.5,
  lineHeight: '29.8px',
  color: '#000',
  whiteSpace: 'nowrap' as const,
};

export default function App() {
  return (
    <div
      style={{
        position: 'absolute',
        left: 0,
        top: 0,
        width: W,
        height: H,
        background: '#fff',
        overflow: 'hidden',
        fontFamily: FONT,
      }}
    >
      <LineChart width={W} height={H} margin={{ top: PLOT_T, right: W - PLOT_R, bottom: 0, left: PLOT_L }}>
        <XAxis
          dataKey="d"
          type="number"
          domain={[X_MIN, X_MAX]}
          ticks={xTicks}
          interval={0}
          allowDataOverflow
          height={45}
          tickSize={0}
          tickMargin={0}
          tickLine={false}
          axisLine={{ stroke: '#000', strokeWidth: 2 }}
          tick={<DayTick />}
        />
        <YAxis
          yAxisId="t"
          type="number"
          domain={[0, 100]}
          ticks={leftTicks}
          allowDataOverflow
          width={0}
          tick={false}
          tickSize={7}
          tickLine={{ stroke: '#000', strokeWidth: 1.5 }}
          axisLine={{ stroke: '#000', strokeWidth: 2 }}
        />
        <YAxis
          yAxisId="p"
          orientation="right"
          mirror
          type="number"
          domain={[0, 100]}
          ticks={rightTicks}
          allowDataOverflow
          width={0}
          tick={false}
          tickSize={7}
          tickLine={{ stroke: '#000', strokeWidth: 1.5 }}
          axisLine={{ stroke: '#000', strokeWidth: 2 }}
        />

        {gridValues.map((v) => (
          <ReferenceLine key={`g${v}`} yAxisId="t" y={v} stroke="#000" strokeWidth={2} strokeDasharray="3 4.5" />
        ))}
        {eventDays.map((d) => (
          <ReferenceLine key={`e${d}`} yAxisId="t" x={d} stroke="#666" strokeWidth={1.4} />
        ))}

        <Line yAxisId="t" data={toPts(commonTemp)} dataKey="v" stroke="#CC99FF" strokeWidth={2.2} dot={false} isAnimationActive={false} />
        <Line yAxisId="t" data={toPts(bottomTemp2)} dataKey="v" stroke="#FFCC00" strokeWidth={2.2} dot={false} isAnimationActive={false} />
        <Line yAxisId="t" data={toPts(bottomTemp1)} dataKey="v" stroke="#FF6600" strokeWidth={2.2} dot={false} isAnimationActive={false} />
        <Line yAxisId="t" data={toPts(electrodeTemp)} dataKey="v" stroke="#800080" strokeWidth={1.6} dot={false} isAnimationActive={false} />
        <Line yAxisId="t" data={toPts(nozzleTemp)} dataKey="v" stroke="#008080" strokeWidth={1.6} dot={false} isAnimationActive={false} />
        <Line yAxisId="t" data={toPts(gasTemp)} dataKey="v" stroke="#000080" strokeWidth={1.8} dot={false} isAnimationActive={false} />

        <Line yAxisId="t" data={glassPts(glass1, glass1Mid)} dataKey="v" stroke="#00CCFF" strokeWidth={2.2} dot={false} isAnimationActive={false} />
        <Line yAxisId="t" data={glassPts(glass2, glass2Mid)} dataKey="v" stroke="#FF0000" strokeWidth={2} dot={false} isAnimationActive={false} />
        <Line yAxisId="t" data={glassPts(glass3, glass3Mid)} dataKey="v" stroke="#000080" strokeWidth={2.2} dot={false} isAnimationActive={false} />
        <Line yAxisId="t" data={glassPts(glass4, glass4Mid)} dataKey="v" stroke="#008000" strokeWidth={2} dot={false} isAnimationActive={false} />

        <Line yAxisId="p" type="stepAfter" data={toPts(mainPower)} dataKey="v" stroke="#000" strokeWidth={2.4} dot={false} isAnimationActive={false} />
        <Line yAxisId="p" type="stepAfter" data={toPts(heaterPower)} dataKey="v" stroke="#FF00FF" strokeWidth={2.2} dot={false} isAnimationActive={false} />

        <ReferenceArea yAxisId="t" x1={22.63} x2={25.01} y1={72.6} y2={95.9} fill="none" fillOpacity={0} stroke="#FF0000" strokeWidth={3} strokeDasharray="13 8" />
        <ReferenceArea yAxisId="t" x1={27.07} x2={29.48} y1={68.0} y2={92.7} fill="none" fillOpacity={0} stroke="#333399" strokeWidth={3} strokeDasharray="15 8" />
      </LineChart>

      {/* framed side panels */}
      <div style={{ position: 'absolute', left: 56, top: 195, width: 55, height: 936, border: '3px solid #000', boxSizing: 'border-box', background: '#fff' }} />
      <div style={{ position: 'absolute', left: 1547, top: 195, width: 56, height: 936, border: '3px solid #000', boxSizing: 'border-box', background: '#fff' }} />

      {/* schedule band */}
      {phases.map((p, i) => (
        <div
          key={`ph${i}`}
          style={{
            position: 'absolute',
            left: dayX(p.from),
            top: 150,
            width: dayX(p.to) - dayX(p.from),
            height: 56,
            background: p.color,
            border: '1.5px solid #000',
            boxSizing: 'border-box',
            display: 'flex',
            flexDirection: 'column',
            alignItems: 'center',
            justifyContent: 'center',
            fontSize: p.lines.length > 1 ? 16 : 18,
            lineHeight: p.lines.length > 1 ? '23.5px' : '26px',
            color: '#000',
            whiteSpace: 'nowrap',
          }}
        >
          {p.lines.map((l, j) => (
            <div key={j}>{l}</div>
          ))}
        </div>
      ))}

      {/* series name labels */}
      {callouts.map((c, i) => (
        <div
          key={`c${i}`}
          style={{
            position: 'absolute',
            left: c.x,
            top: c.y,
            width: c.w,
            height: c.h,
            border: `3px solid ${c.color}`,
            boxSizing: 'border-box',
            background: '#fff',
            display: 'flex',
            alignItems: 'center',
            justifyContent: 'center',
            fontSize: 22,
            color: '#000',
          }}
        >
          {c.text}
        </div>
      ))}

      {/* notes */}
      <div
        style={{
          ...noteStyle,
          left: 475,
          top: 32,
          width: 392,
          height: 95,
          border: '1.5px solid #FF0000',
          padding: '4px 0 0 17px',
          letterSpacing: '2.3px',
        }}
      >
        <div>運転条件確認の一環として炉底部</div>
        <div>の冷却空気の流量を変更したこと</div>
        <div>によりガラス温度が低下している</div>
      </div>
      <div
        style={{
          ...noteStyle,
          left: 881,
          top: 5,
          width: 708,
          height: 135,
          border: '1.5px solid #0000FF',
          padding: '9px 0 0 18px',
          letterSpacing: '1.6px',
        }}
      >
        <div>模擬廃液（低模擬）による確認の立上げ時にガラス温度が高めに</div>
        <div>推移した状況を踏まえ、立上げ温度を低めにするよう電力調整を</div>
        <div>行った。ガラス温度は低く抑えられたものの運転の過程で温度変化</div>
        <div>が大きくなっている。</div>
      </div>

      <svg width={W} height={H} style={{ position: 'absolute', left: 0, top: 0, pointerEvents: 'none' }}>
        {arrows.map((a, i) => (
          <Arrow key={`a${i}`} {...a} />
        ))}
        <text
          x={30}
          y={643}
          transform="rotate(-90 30 643)"
          textAnchor="middle"
          dominantBaseline="central"
          fontSize={25}
          fontWeight="bold"
          fontFamily={FONT}
        >
          温度[℃]
        </text>
        <text
          x={1630}
          y={633}
          transform="rotate(-90 1630 633)"
          textAnchor="middle"
          dominantBaseline="central"
          fontSize={25}
          fontWeight="bold"
          fontFamily={FONT}
        >
          電力[kW]
        </text>
      </svg>
    </div>
  );
}
